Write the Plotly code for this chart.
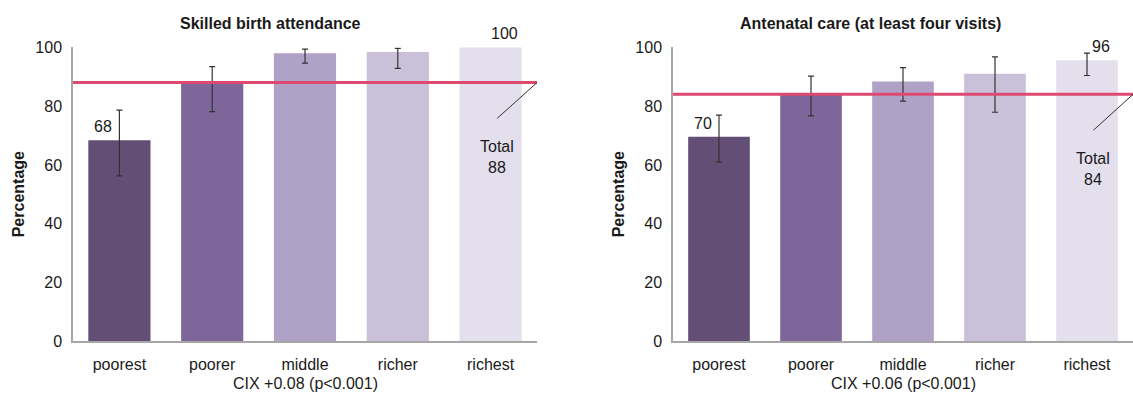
import plotly.graph_objects as go

# Wealth quintiles
quintiles = ["poorest", "poorer", "middle", "richer", "richest"]
bar_colors = ["#634e76", "#7e669a", "#b0a1c6", "#c9c0da", "#e4dfed"]

# Skilled birth attendance (%), with 95% CI bounds (none reported for the richest)
sba_values = [68.4, 87.6, 98.0, 98.4, 100.0]
sba_upper = [78.6, 93.4, 99.4, 99.6, None]
sba_lower = [56.3, 78.1, 94.6, 92.8, None]
sba_total = 88
sba_cix = "CIX +0.08 (p<0.001)"

# Antenatal care, at least four visits (%), with 95% CI bounds
anc_values = [69.6, 84.2, 88.4, 91.0, 95.6]
anc_upper = [76.9, 90.2, 93.1, 96.7, 98.0]
anc_lower = [61.0, 76.7, 81.7, 77.9, 90.4]
anc_total = 84
anc_cix = "CIX +0.06 (p<0.001)"

W, H = 1133, 404
FONT = "Liberation Sans, Arial, sans-serif"
TXT = "#1a1a1a"
LINE_RED = "#dc4a70"
AXIS_GREY = "#a6a6a6"


def px_x(p):
    return p / W


def px_y(p):
    return 1 - p / H


panels = [
    dict(title="Skilled birth attendance", values=sba_values, upper=sba_upper,
         lower=sba_lower, total=sba_total, cix=sba_cix,
         x0=73, x1=537, title_x=270, ylab_x=18),
    dict(title="Antenatal care (at least four visits)", values=anc_values, upper=anc_upper,
         lower=anc_lower, total=anc_total, cix=anc_cix,
         x0=673, x1=1133, title_x=870, ylab_x=618),
]

PLOT_TOP, PLOT_BOTTOM = 41, 348

fig = go.Figure()
annotations = []
shapes = []

for i, p in enumerate(panels, start=1):
    xa = "x" if i == 1 else f"x{i}"
    ya = "y" if i == 1 else f"y{i}"

    fig.add_trace(go.Bar(
        x=quintiles, y=p["values"], marker=dict(color=bar_colors, line=dict(width=0)),
        width=0.67, xaxis=xa, yaxis=ya, showlegend=False, hoverinfo="skip",
    ))

    # confidence intervals, only where bounds exist
    ci = [(q, v, u, l) for q, v, u, l in zip(quintiles, p["values"], p["upper"], p["lower"])
          if u is not None and l is not None]
    fig.add_trace(go.Scatter(
        x=[c[0] for c in ci], y=[c[1] for c in ci], mode="markers",
        marker=dict(size=1, opacity=0), xaxis=xa, yaxis=ya, showlegend=False,
        hoverinfo="skip",
        error_y=dict(type="data", symmetric=False,
                     array=[c[2] - c[1] for c in ci],
                     arrayminus=[c[1] - c[3] for c in ci],
                     color="#333333", thickness=1.2, width=3),
    ))

    dom_x = [px_x(p["x0"]), px_x(p["x1"])]
    dom_y = [px_y(PLOT_BOTTOM), px_y(PLOT_TOP)]
    axis_suffix = "" if i == 1 else str(i)
    fig.layout["xaxis" + axis_suffix] = dict(
        domain=dom_x, anchor=ya, range=[-0.5, 4.5], showgrid=False, zeroline=False,
        showline=True, linecolor=AXIS_GREY, linewidth=1.5, ticks="",
        tickfont=dict(family=FONT, size=16, color=TXT), ticklabelstandoff=8,
        fixedrange=True,
    )
    fig.layout["yaxis" + axis_suffix] = dict(
        domain=dom_y, anchor=xa, range=[0, 100], tickvals=[0, 20, 40, 60, 80, 100],
        showgrid=False, zeroline=False, showline=True, linecolor=AXIS_GREY, linewidth=1.5,
        ticks="", tickfont=dict(family=FONT, size=16, color=TXT), ticklabelstandoff=6,
        fixedrange=True,
    )

    # national total reference line
    shapes.append(dict(type="line", xref=xa, yref=ya, x0=-0.5, x1=4.5,
                       y0=p["total"], y1=p["total"], line=dict(color=LINE_RED, width=3),
                       layer="above"))
    # leader line to the total label
    lead_end_x = 4.07
    lead_end_y = p["total"] - 12.2
    shapes.append(dict(type="line", xref=xa, yref=ya, x0=4.5, x1=lead_end_x,
                       y0=p["total"], y1=lead_end_y, line=dict(color="#333333", width=1),
                       layer="above"))
    annotations.append(dict(
        x=lead_end_x, y=lead_end_y, xref=xa, yref=ya, showarrow=False,
        text=f"Total<br>{p['total']}", yanchor="top", xanchor="center", yshift=-18,
        font=dict(family=FONT, size=16, color=TXT), align="center",
    ))

    # value labels for the poorest and richest quintiles
    annotations.append(dict(
        x=quintiles[0], y=p["values"][0], xref=xa, yref=ya, showarrow=False,
        text=f"{round(p['values'][0])}", yanchor="bottom", xanchor="center",
        xshift=-16, yshift=3, font=dict(family=FONT, size=16, color=TXT),
    ))
    annotations.append(dict(
        x=quintiles[4], y=p["values"][4], xref=xa, yref=ya, showarrow=False,
        text=f"{round(p['values'][4])}", yanchor="bottom", xanchor="center",
        xshift=14, yshift=3, font=dict(family=FONT, size=16, color=TXT),
    ))

    # panel title
    annotations.append(dict(
        x=px_x(p["title_x"]), y=px_y(16), xref="paper", yref="paper", showarrow=False,
        text=f"<b>{p['title']}</b>", xanchor="center", yanchor="middle",
        font=dict(family=FONT, size=16, color=TXT),
    ))
    # y axis title
    annotations.append(dict(
        x=px_x(p["ylab_x"]), y=px_y((PLOT_TOP + PLOT_BOTTOM) / 2), xref="paper", yref="paper",
        showarrow=False, text="<b>Percentage</b>", textangle=-90,
        xanchor="center", yanchor="middle", font=dict(family=FONT, size=16, color=TXT),
    ))
    # concentration index beneath the categories
    annotations.append(dict(
        x=px_x((p["x0"] + p["x1"]) / 2), y=px_y(392), xref="paper", yref="paper",
        showarrow=False, text=p["cix"], xanchor="center", yanchor="middle",
        font=dict(family=FONT, size=16, color=TXT),
    ))

fig.update_layout(
    width=W, height=H, margin=dict(l=0, r=0, t=0, b=0),
    paper_bgcolor="white", plot_bgcolor="white",
    annotations=annotations, shapes=shapes, bargap=0.33,
)

fig.write_html("out.html", config={"displayModeBar": False})
